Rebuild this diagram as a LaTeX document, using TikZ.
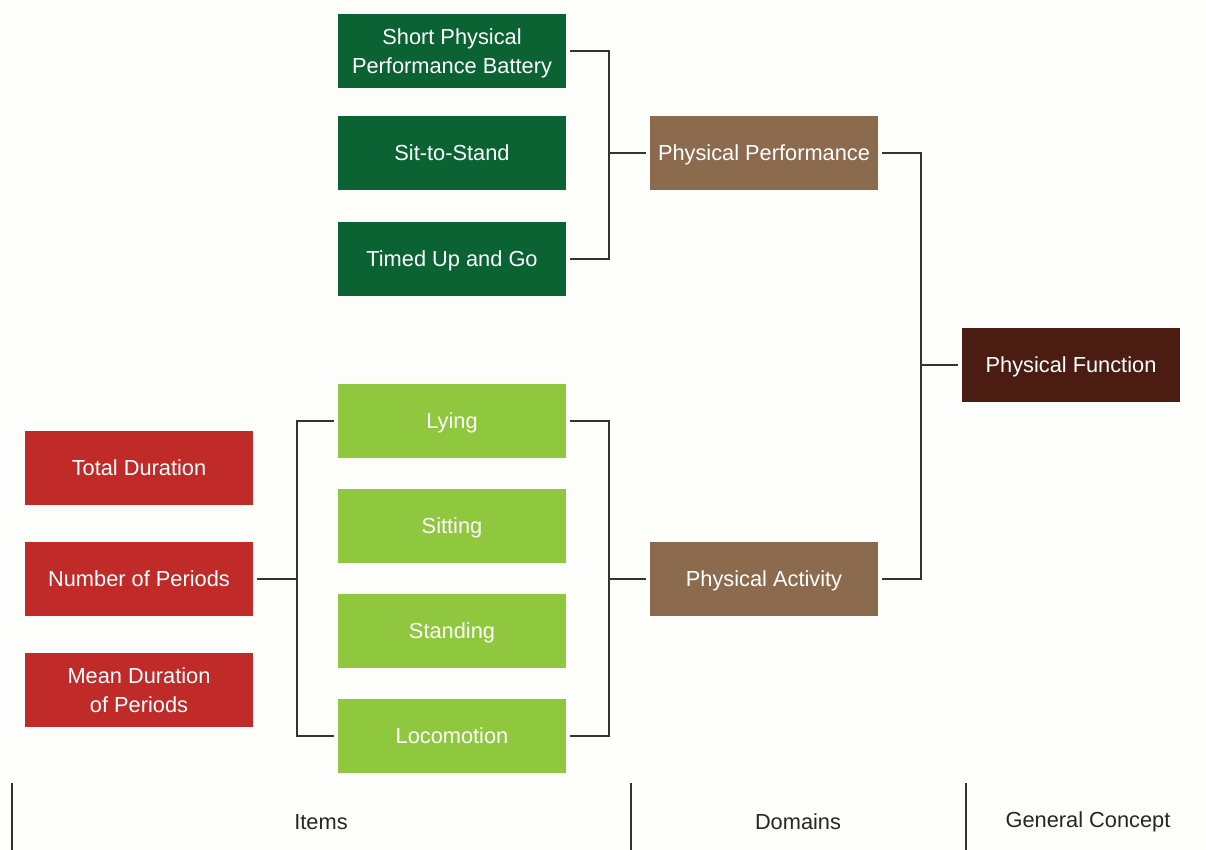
\documentclass[tikz,border=0pt]{standalone}
\usepackage{fontspec}
\setmainfont{Liberation Sans}
\usetikzlibrary{positioning}
\definecolor{itemdark}{HTML}{0B6233}
\definecolor{itemlight}{HTML}{8FC73E}
\definecolor{itemred}{HTML}{C02A29}
\definecolor{domain}{HTML}{8B6A4E}
\definecolor{concept}{HTML}{4A1C12}
\definecolor{paper}{HTML}{FDFDFB}
\tikzset{
  box/.style={rectangle, minimum width=5.7cm, minimum height=1.85cm, inner sep=0pt,
    outer sep=2.8pt, text=white, align=center, text depth=0pt,
    font=\fontsize{15.5}{20.5}\selectfont},
  link/.style={draw=black!80, line width=1pt},
  colname/.style={font=\fontsize{15.5}{18.5}\selectfont, text=black!85},
}
\begin{document}
\begin{tikzpicture}[x=0.025cm, y=-0.025cm]
		%%%%% CANVAS %%%%%
		\fill[paper] (0, 0) rectangle (1206, 850);
		\useasboundingbox (0, 0) rectangle (1206, 850);
		
		%%%%% ITEMS %%%%%
		\node[box, fill=itemdark] (sppb) at (452, 51) {Short Physical\\Performance Battery};
		\node[box, fill=itemdark] (sts) at (452, 153) {Sit-to-Stand};
		\node[box, fill=itemdark] (tug) at (452, 259) {Timed Up and Go};
		
		\node[box, fill=itemlight] (lying) at (452, 421) {Lying};
		\node[box, fill=itemlight] (sitting) at (452, 526) {Sitting};
		\node[box, fill=itemlight] (standing) at (452, 631) {Standing};
		\node[box, fill=itemlight] (loco) at (452, 736) {Locomotion};
		
		\node[box, fill=itemred] (total) at (139, 468) {Total Duration};
		\node[box, fill=itemred] (nop) at (139, 579) {Number of Periods};
		\node[box, fill=itemred] (mean) at (139, 690) {Mean Duration\\of Periods};
		
		%%%%% DOMAINS %%%%%
		\node[box, fill=domain] (pp) at (764, 153) {Physical Performance};
		\node[box, fill=domain] (pa) at (764, 579) {Physical Activity};
		
		%%%%% CONCEPT %%%%%
		\node[box, fill=concept, minimum width=5.45cm] (pf) at (1071, 365) {Physical Function};
		
		%%%%% BRACKETS %%%%%
		\coordinate (brA) at (609, 153);
		\coordinate (brB) at (609, 579);
		\coordinate (brC) at (921, 365);
		\coordinate (brD) at (297, 579);
		
		\draw[link] (sppb.east) -| (brA) |- (tug.east);
		\draw[link] (brA) -- (pp.west);
		
		\draw[link] (lying.east) -| (brB) |- (loco.east);
		\draw[link] (brB) -- (pa.west);
		
		\draw[link] (pp.east) -| (brC) |- (pa.east);
		\draw[link] (brC) -- (pf.west);
		
		\draw[link] (lying.west) -| (brD) |- (loco.west);
		\draw[link] (nop.east) -- (brD);
		
		%%%%% LEVELS %%%%%
		\draw[link] (12, 783) -- (12, 850);
		\draw[link] (631, 783) -- (631, 850);
		\draw[link] (966, 783) -- (966, 850);
		\node[colname] (items) at (321, 822) {Items};
		\node[colname] (domains) at (798, 822) {Domains};
		\node[colname] (general) at (1088, 822) {General Concept};
\end{tikzpicture}
\end{document}
